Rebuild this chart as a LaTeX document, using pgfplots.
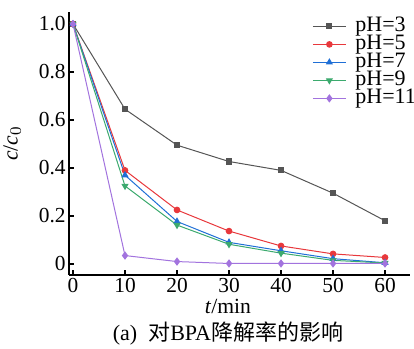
\documentclass[border=0pt]{standalone}
\usepackage{pgfplots}
\pgfplotsset{compat=1.18}
\usetikzlibrary{calc}
\usepackage{fontspec}
\setmainfont{Liberation Serif}
\newfontfamily\cjk{Noto Sans CJK SC}
\definecolor{cgray}{HTML}{555555}
\definecolor{cred}{HTML}{E8383C}
\definecolor{cblue}{HTML}{1F6FD6}
\definecolor{cgreen}{HTML}{3CAA6E}
\definecolor{cpurple}{HTML}{A273DE}
\begin{document}
\begin{tikzpicture}
\begin{axis}[
  scale only axis,
  width=170.5pt, height=131.5pt,
  axis lines*=left,
  axis line style={line width=0.9pt},
  xmin=-0.77, xmax=64.8,
  ymin=-0.046, ymax=1.05,
  xtick={0,10,20,30,40,50,60},
  ytick={0,0.2,0.4,0.6,0.8,1.0},
  yticklabels={0,0.2,0.4,0.6,0.8,1.0},
  tick align=inside,
  major tick length=2.5pt,
  tick style={line width=0.6pt, black},
  xticklabel style={inner sep=1.5pt, yshift=0pt},
  yticklabel style={inner sep=1.5pt},
  /pgf/number format/assume math mode=true,
  tick label style={font=\fontsize{10.7}{12}\selectfont},
  label style={font=\fontsize{10.8}{12}\selectfont},
  ylabel={\textit{c}/\textit{c}$_0$},
  ylabel style={at={(rel axis cs:0,0.5)}, yshift=20.5pt},
  legend cell align=left,
  legend style={draw=none, fill=none, at={(0.7126,0.981)}, anchor=north west,
    inner sep=0pt, row sep=0pt, column sep=4.5pt, font=\fontsize{11}{12}\selectfont,
    nodes={inner sep=0pt, text height=7pt, text depth=2pt}},
  legend image code/.code={\draw[mark repeat=2,mark phase=2] plot coordinates {(0cm,0cm) (0.29cm,0cm) (0.58cm,0cm)};},
  every axis plot/.append style={line width=0.5pt},
]
\addplot[color=cgray, mark=square*, mark size=1.3pt] coordinates {(0,1) (10,0.645) (20,0.495) (30,0.427) (40,0.39) (50,0.295) (60,0.18)};
\addlegendentry{pH=3}
\addplot[color=cred, mark=*, mark size=1.4pt] coordinates {(0,1) (10,0.39) (20,0.225) (30,0.137) (40,0.075) (50,0.042) (60,0.027)};
\addlegendentry{pH=5}
\addplot[color=cblue, mark=triangle*, mark size=1.6pt] coordinates {(0,1) (10,0.37) (20,0.177) (30,0.09) (40,0.055) (50,0.022) (60,0.005)};
\addlegendentry{pH=7}
\addplot[color=cgreen, mark=triangle*, mark options={rotate=180}, mark size=1.6pt] coordinates {(0,1) (10,0.325) (20,0.162) (30,0.082) (40,0.045) (50,0.015) (60,0.004)};
\addlegendentry{pH=9}
\addplot[color=cpurple, mark=diamond*, mark size=1.7pt] coordinates {(0,1) (10,0.035) (20,0.01) (30,0.002) (40,0.002) (50,0.002) (60,0.002)};
\addlegendentry{pH=11}
\end{axis}
\node[anchor=base, inner sep=0pt, font=\fontsize{10.8}{12}\selectfont] at ($(current axis.south west)+(79.5pt,-19.5pt)$) {\textit{t}/min};
\node[anchor=base, inner sep=0pt, font=\fontsize{11}{12}\selectfont] at ($(current axis.south west)+(79.5pt,-33pt)$) {(a)\hspace{0.5em}{\cjk 对}BPA{\cjk 降解率的影响}};
\pgfresetboundingbox
\path[use as bounding box] ($(current axis.south west)+(-34.5pt,-37pt)$) rectangle ($(current axis.north east)+(2pt,6pt)$);
\end{tikzpicture}
\end{document}
